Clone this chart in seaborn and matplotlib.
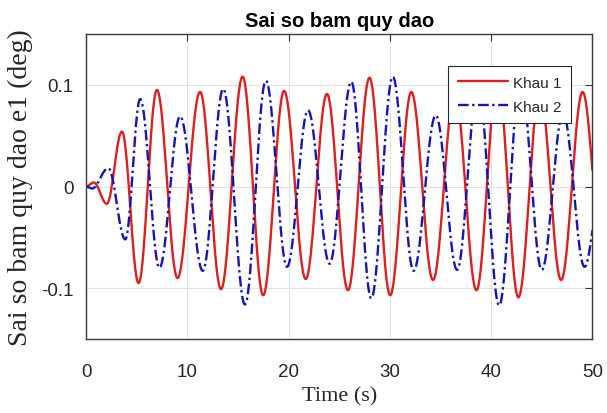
import numpy as np
import pandas as pd
import seaborn as sns
import matplotlib.pyplot as plt

# Extrema: time (s) and tracking error (deg)
khau1_t = [0.0, 0.76, 2.05, 3.55, 5.19, 7.0, 9.03, 11.26, 13.33, 15.46, 17.49, 19.56,
           21.69, 23.79, 25.86, 27.99, 30.03, 32.12, 34.26, 36.41, 38.55, 40.62,
           42.69, 44.8, 46.91, 49.03, 50.0]
khau1_e = [0.0, 0.004, -0.017, 0.054, -0.095, 0.095, -0.090, 0.093, -0.101, 0.108, -0.107, 0.094,
           -0.091, 0.091, -0.102, 0.107, -0.107, 0.093, -0.092, 0.093, -0.102, 0.106,
           -0.109, 0.093, -0.092, 0.093, 0.016]

khau2_t = [0.0, 0.6, 2.2, 3.88, 5.35, 7.25, 9.29, 11.53, 13.55, 15.69, 17.76, 19.85,
           21.92, 24.05, 26.19, 28.16, 30.29, 32.34, 34.53, 36.64, 38.7, 40.79,
           42.9, 45.0, 47.1, 49.22, 50.0]
khau2_e = [0.0, -0.002, 0.018, -0.052, 0.086, -0.080, 0.069, -0.083, 0.096, -0.116, 0.104, -0.079,
           0.075, -0.076, 0.103, -0.110, 0.108, -0.083, 0.070, -0.082, 0.100, -0.117,
           0.104, -0.082, 0.072, -0.079, -0.043]

labels = ["Khau 1", "Khau 2"]
colors = {"Khau 1": "#dc1f1f", "Khau 2": "#1515b5"}


def trace(ts, es, n=40):
    """Join successive extrema with half-cosine arcs (last piece is a quarter arc)."""
    out_t, out_e = [], []
    for i in range(len(ts) - 1):
        if i == len(ts) - 2:
            s = np.linspace(0, 1, n)
            w = 1 - np.cos(s * np.pi / 2)
        else:
            s = np.linspace(0, 1, n, endpoint=False)
            w = (1 - np.cos(s * np.pi)) / 2
        out_t.extend(ts[i] + s * (ts[i + 1] - ts[i]))
        out_e.extend(es[i] + w * (es[i + 1] - es[i]))
    return out_t, out_e


frames = []
for name, ts, es in [(labels[0], khau1_t, khau1_e), (labels[1], khau2_t, khau2_e)]:
    t, e = trace(ts, es)
    frames.append(pd.DataFrame({"time": t, "err": e, "joint": name}))
df = pd.concat(frames, ignore_index=True)

sns.set_style("white")
plt.rcParams["font.family"] = ["Liberation Sans", "DejaVu Sans"]

fig, ax = plt.subplots(figsize=(6.07, 4.14), dpi=100)
fig.subplots_adjust(left=0.1417, right=0.976, top=0.9155, bottom=0.1787)

sns.lineplot(data=df, x="time", y="err", hue="joint", style="joint",
             palette=colors, dashes={"Khau 1": "", "Khau 2": (4.5, 1.5, 1, 1.5)},
             linewidth=1.7, sort=False, estimator=None, legend=False, ax=ax)

ax.set_xlim(0, 50)
ax.set_ylim(-0.15, 0.15)
ax.set_xticks(range(0, 51, 10))
ax.set_yticks([-0.1, 0, 0.1])
ax.set_yticklabels(["-0.1", "0", "0.1"])
ax.tick_params(direction="in", top=True, right=True, length=5, width=0.8,
               colors="#333333", labelsize=13.5, labelcolor="#262626")
ax.tick_params(axis="x", pad=17)
ax.tick_params(axis="y", pad=9)
ax.grid(True, color="#e2e2e2", linewidth=0.8)
ax.set_axisbelow(True)
for sp in ax.spines.values():
    sp.set_color("#3a3a3a")
    sp.set_linewidth(1.0)

ax.set_title("Sai so bam quy dao", fontsize=14.5, fontweight="bold", pad=6, color="black")
ax.set_xlabel("Time (s)", fontsize=16, family=["Liberation Serif", "DejaVu Serif"],
              labelpad=5, color="#262626")
ax.set_ylabel("Sai so bam quy dao e1 (deg)", fontsize=20,
              family=["Liberation Serif", "DejaVu Serif"], labelpad=6, color="#262626")

leg = ax.legend(ax.get_lines()[:2], labels, loc="upper right", bbox_to_anchor=(0.957, 0.894),
                borderaxespad=0, fancybox=False, edgecolor="#262626", framealpha=1,
                fontsize=11, handlelength=3.3, handletextpad=0.3, labelspacing=0.65,
                borderpad=0.62)
leg.get_frame().set_linewidth(0.8)

fig.savefig("out.png", dpi=100)
